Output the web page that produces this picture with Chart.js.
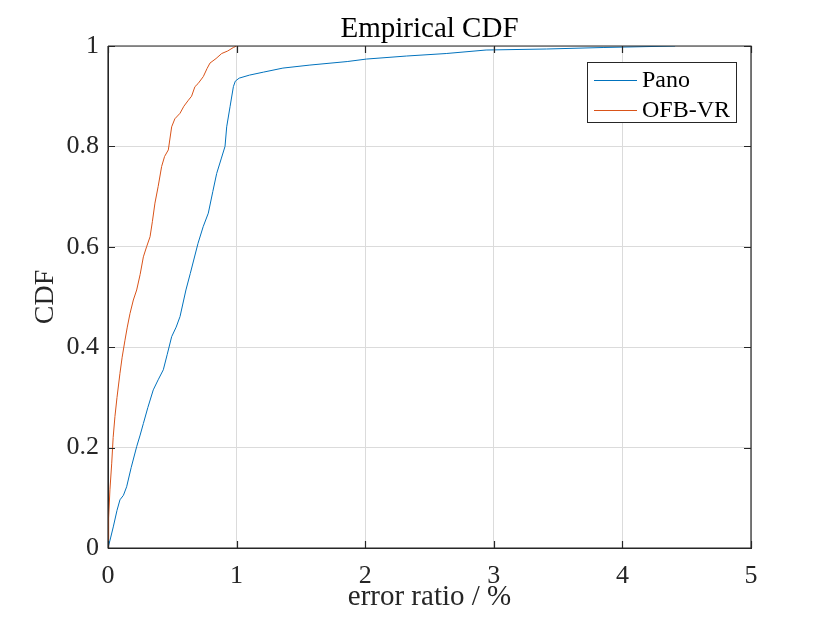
<!DOCTYPE html>
<html>
<head>
<meta charset="utf-8">
<script src="https://cdn.jsdelivr.net/npm/chart.js@4.4.1/dist/chart.umd.min.js"></script>
<style>
  html, body { margin: 0; padding: 0; background: #fff; }
  #cdf { display: block; }
</style>
</head>
<body>
<canvas id="cdf" width="830" height="623"></canvas>
<script>
// DATA
const panoX = [0, 0.02, 0.041, 0.07, 0.093, 0.12, 0.145, 0.18, 0.223, 0.25, 0.275, 0.31, 0.352, 0.39, 0.43, 0.46,
  0.495, 0.53, 0.56, 0.606, 0.64, 0.70, 0.74, 0.78, 0.815, 0.845, 0.88, 0.91, 0.923, 0.949, 0.975, 0.99, 1.02,
  1.10, 1.21, 1.36, 1.57, 1.86, 2.01, 2.32, 2.63, 2.94, 3.41, 3.85, 4.41];
const panoY = [0, 0.02, 0.042, 0.075, 0.096, 0.105, 0.122, 0.16, 0.202, 0.225, 0.248, 0.28, 0.315, 0.335, 0.355, 0.385,
  0.421, 0.44, 0.461, 0.514, 0.547, 0.607, 0.64, 0.667, 0.71, 0.746, 0.775, 0.80, 0.839, 0.879, 0.919, 0.93, 0.936,
  0.942, 0.948, 0.956, 0.962, 0.969, 0.974, 0.98, 0.985, 0.992, 0.994, 0.997, 1.0];

const ofbX = [0, 0.005, 0.015, 0.029, 0.04, 0.054, 0.07, 0.093, 0.11, 0.132, 0.15, 0.171, 0.197, 0.223, 0.25, 0.275,
  0.30, 0.327, 0.345, 0.365, 0.39, 0.417, 0.44, 0.469, 0.495, 0.52, 0.56, 0.59, 0.625, 0.65, 0.676, 0.70, 0.741,
  0.77, 0.793, 0.84, 0.884, 0.93, 0.975, 1.0];
const ofbY = [0, 0.06, 0.116, 0.169, 0.22, 0.262, 0.30, 0.348, 0.38, 0.414, 0.44, 0.467, 0.494, 0.514, 0.545, 0.580,
  0.60, 0.62, 0.65, 0.687, 0.72, 0.76, 0.78, 0.793, 0.839, 0.855, 0.866, 0.88, 0.892, 0.90, 0.919, 0.925, 0.939,
  0.955, 0.966, 0.975, 0.985, 0.99, 0.997, 1.0];

const seriesNames = ['Pano', 'OFB-VR'];
const chartTitle = 'Empirical CDF';
const xTicks = [0, 1, 2, 3, 4, 5];
const yTicks = [0, 0.2, 0.4, 0.6, 0.8, 1];
const yTickLabels = ['0', '0.2', '0.4', '0.6', '0.8', '1'];

const AXIS = '#262626';
const GRID = '#dbdbdb';
const SERIF = '"Liberation Serif", "Times New Roman", serif';

function pts(xs, ys) {
  return xs.map((x, i) => ({ x: x, y: ys[i] }));
}

// title over the axes, inner ticks, top/right box and legend drawn MATLAB style
const matlabAxes = {
  id: 'matlabAxes',
  afterDatasetsDraw(chart) {
    const { ctx, chartArea: a, scales } = chart;
    const tl = 7;
    ctx.save();
    ctx.strokeStyle = AXIS;
    ctx.lineWidth = 1.2;
    ctx.beginPath();
    ctx.moveTo(a.left, a.top); ctx.lineTo(a.right, a.top); ctx.lineTo(a.right, a.bottom);
    ctx.moveTo(a.left, a.top); ctx.lineTo(a.left, a.bottom); ctx.lineTo(a.right, a.bottom);
    xTicks.forEach(v => {
      const px = Math.round(scales.x.getPixelForValue(v)) + 0.5;
      ctx.moveTo(px, a.bottom); ctx.lineTo(px, a.bottom - tl);
      ctx.moveTo(px, a.top); ctx.lineTo(px, a.top + tl);
    });
    yTicks.forEach(v => {
      const py = Math.round(scales.y.getPixelForValue(v)) + 0.5;
      ctx.moveTo(a.left, py); ctx.lineTo(a.left + tl, py);
      ctx.moveTo(a.right, py); ctx.lineTo(a.right - tl, py);
    });
    ctx.stroke();

    // title centred on the axes
    ctx.fillStyle = '#000';
    ctx.font = '29px ' + SERIF;
    ctx.textAlign = 'center';
    ctx.textBaseline = 'alphabetic';
    ctx.fillText(chartTitle, (a.left + a.right) / 2, a.top - 9);

    // legend
    const bw = 149, bh = 60;
    const bx = a.right - 15 - bw, by = a.top + 16;
    ctx.fillStyle = '#fff';
    ctx.fillRect(bx, by, bw, bh);
    ctx.strokeStyle = AXIS;
    ctx.lineWidth = 1;
    ctx.strokeRect(bx + 0.5, by + 0.5, bw, bh);
    ctx.font = '24px ' + SERIF;
    ctx.textBaseline = 'middle';
    ctx.textAlign = 'left';
    chart.data.datasets.forEach((ds, i) => {
      const ry = by + 18 + i * 30;
      ctx.strokeStyle = ds.borderColor;
      ctx.beginPath();
      ctx.moveTo(bx + 7, ry + 0.5); ctx.lineTo(bx + 50, ry + 0.5);
      ctx.stroke();
      ctx.fillStyle = '#000';
      ctx.fillText(ds.label, bx + 55, ry + 1);
    });
    ctx.restore();
  }
};

new Chart(document.getElementById('cdf'), {
  type: 'scatter',
  data: {
    datasets: [
      { label: seriesNames[0], data: pts(panoX, panoY), showLine: true, borderColor: 'rgb(0,114,189)',
        borderWidth: 1, pointRadius: 0, tension: 0 },
      { label: seriesNames[1], data: pts(ofbX, ofbY), showLine: true, borderColor: 'rgb(217,83,25)',
        borderWidth: 1, pointRadius: 0, tension: 0 }
    ]
  },
  options: {
    responsive: false,
    animation: false,
    devicePixelRatio: 1,
    layout: { padding: { left: 0, right: 79, top: 46, bottom: 0 } },
    plugins: {
      legend: { display: false },
      tooltip: { enabled: false },
      title: { display: false }
    },
    scales: {
      x: {
        type: 'linear', min: 0, max: 5,
        afterBuildTicks: s => { s.ticks = xTicks.map(v => ({ value: v })); },
        afterFit: s => { s.height = 75; },
        ticks: { color: AXIS, font: { family: SERIF, size: 26 }, padding: 13, maxRotation: 0,
          callback: v => String(v) },
        grid: { color: GRID, drawTicks: false },
        border: { color: AXIS },
        title: { display: true, text: 'error ratio / %', color: AXIS,
          font: { family: SERIF, size: 29, lineHeight: 1.2 }, padding: { top: 0, bottom: 8 } }
      },
      y: {
        type: 'linear', min: 0, max: 1,
        afterBuildTicks: s => { s.ticks = yTicks.map(v => ({ value: v })); },
        afterFit: s => { s.width = 108; },
        ticks: { color: AXIS, font: { family: SERIF, size: 26 }, padding: 9,
          callback: v => yTickLabels[yTicks.indexOf(v)] },
        grid: { color: GRID, drawTicks: false },
        border: { color: AXIS },
        title: { display: true, text: 'CDF', color: AXIS,
          font: { family: SERIF, size: 28, lineHeight: 1.2 }, padding: { top: 29, bottom: 0 } }
      }
    }
  },
  plugins: [matlabAxes]
});
</script>
</body>
</html>
